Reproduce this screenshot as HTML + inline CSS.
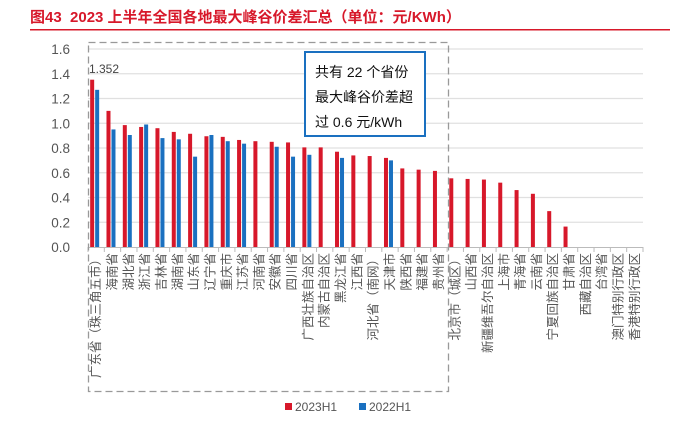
<!DOCTYPE html>
<html><head><meta charset="utf-8"><style>
body{margin:0;background:#fff;}
svg text{font-family:"Liberation Sans","Noto Sans CJK SC",sans-serif;}
</style></head><body>
<svg id="c" width="675" height="430" xmlns="http://www.w3.org/2000/svg">
<text x="30" y="22" font-size="15" font-weight="bold" fill="#d7182a">图43&#160;&#160;2023 上半年全国各地最大峰谷价差汇总（单位：元/KWh）</text>
<rect x="30" y="29" width="640" height="1.5" fill="#d7182a"/>
<g id="grid"></g><g id="bars"></g><g id="axis"></g>
<rect x="88.5" y="42.5" width="360" height="349" fill="none" stroke="#999" stroke-width="1.3" stroke-dasharray="7,4"/>
<rect x="305" y="52" width="120" height="84" fill="#fff" stroke="#1a70c0" stroke-width="2"/>
<text font-size="14" fill="#111"><tspan x="315" y="77">共有 22 个省份</tspan><tspan x="315" y="102">最大峰谷价差超</tspan><tspan x="315" y="127">过 0.6 元/kWh</tspan></text>
<text x="89" y="73" font-size="12" fill="#444">1.352</text>
<rect x="285" y="403" width="7" height="7" fill="#d7182a"/>
<text x="295" y="411" font-size="12" fill="#555">2023H1</text>
<rect x="359" y="403" width="7" height="7" fill="#1a70c0"/>
<text x="369" y="411" font-size="12" fill="#555">2022H1</text>
</svg>
<script>
const categories=["广东省（珠三角五市）","海南省","湖北省","浙江省","吉林省","湖南省","山东省","辽宁省","重庆市","江苏省","河南省","安徽省","四川省","广西壮族自治区","内蒙古自治区","黑龙江省","江西省","河北省（南网）","天津市","陕西省","福建省","贵州省","北京市（城区）","山西省","新疆维吾尔自治区","上海市","青海省","云南省","宁夏回族自治区","甘肃省","西藏自治区","台湾省","澳门特别行政区","香港特别行政区"];
const values2023=[1.352,1.10,0.985,0.97,0.96,0.93,0.915,0.895,0.89,0.865,0.855,0.85,0.845,0.805,0.805,0.77,0.74,0.735,0.72,0.635,0.625,0.615,0.555,0.55,0.545,0.52,0.46,0.43,0.29,0.165,0,0,0,0];
const values2022=[1.27,0.95,0.905,0.99,0.88,0.87,0.73,0.905,0.855,0.835,null,0.81,0.73,0.745,null,0.72,null,null,0.70,null,null,null,null,null,null,null,null,null,null,null,null,null,null,null];
const yTicks=["0.0","0.2","0.4","0.6","0.8","1.0","1.2","1.4","1.6"];
const NS="http://www.w3.org/2000/svg";
const X0=88,X1=643,Y0=247,Y1=49,YMAX=1.6;
const step=(X1-X0)/categories.length;
function y(v){return Y0-(v/YMAX)*(Y0-Y1);}
function xc(i){return X0+step*(i+0.5);}
function mk(t,a,p){const e=document.createElementNS(NS,t);for(const k in a)e.setAttribute(k,a[k]);p.appendChild(e);return e;}
const grid=document.getElementById('grid'),bars=document.getElementById('bars'),axis=document.getElementById('axis');
yTicks.forEach(t=>{const v=parseFloat(t);
 if(v>0){const l=mk('line',{x1:X0,x2:X1,y1:y(v),y2:y(v),stroke:'#e0e0e0','stroke-width':1.3},grid);
 
 }
 const tx=mk('text',{x:X0-18,y:y(v)+5,'font-size':13.5,fill:'#555','text-anchor':'end'},axis);tx.textContent=t;
 
 
});
const ax=mk('line',{x1:X0,x2:X1,y1:Y0+0.5,y2:Y0+0.5,stroke:'#bbb','stroke-width':1},axis);


for(let i=0;i<=categories.length;i++){const tk=mk('line',{x1:X0+step*i,x2:X0+step*i,y1:Y0,y2:Y0+5,stroke:'#bbb'},axis);
 
 }
categories.forEach((c,i)=>{
 const cx=xc(i);
 if(values2023[i]>0){const r=mk('rect',{x:cx-6,y:y(values2023[i]),width:4,height:Y0-y(values2023[i]),fill:'#d7182a'},bars);
 
 }
 if(values2022[i]!=null){const r=mk('rect',{x:cx-1,y:y(values2022[i]),width:4,height:Y0-y(values2022[i]),fill:'#1a70c0'},bars);
 
 }
 const t=mk('text',{x:0,y:0,'font-size':12.5,fill:'#555','text-anchor':'end',transform:`translate(${cx+4},${Y0+6}) rotate(-90)`},axis);
 t.textContent=c;
 
 
});
</script>
</body></html>
